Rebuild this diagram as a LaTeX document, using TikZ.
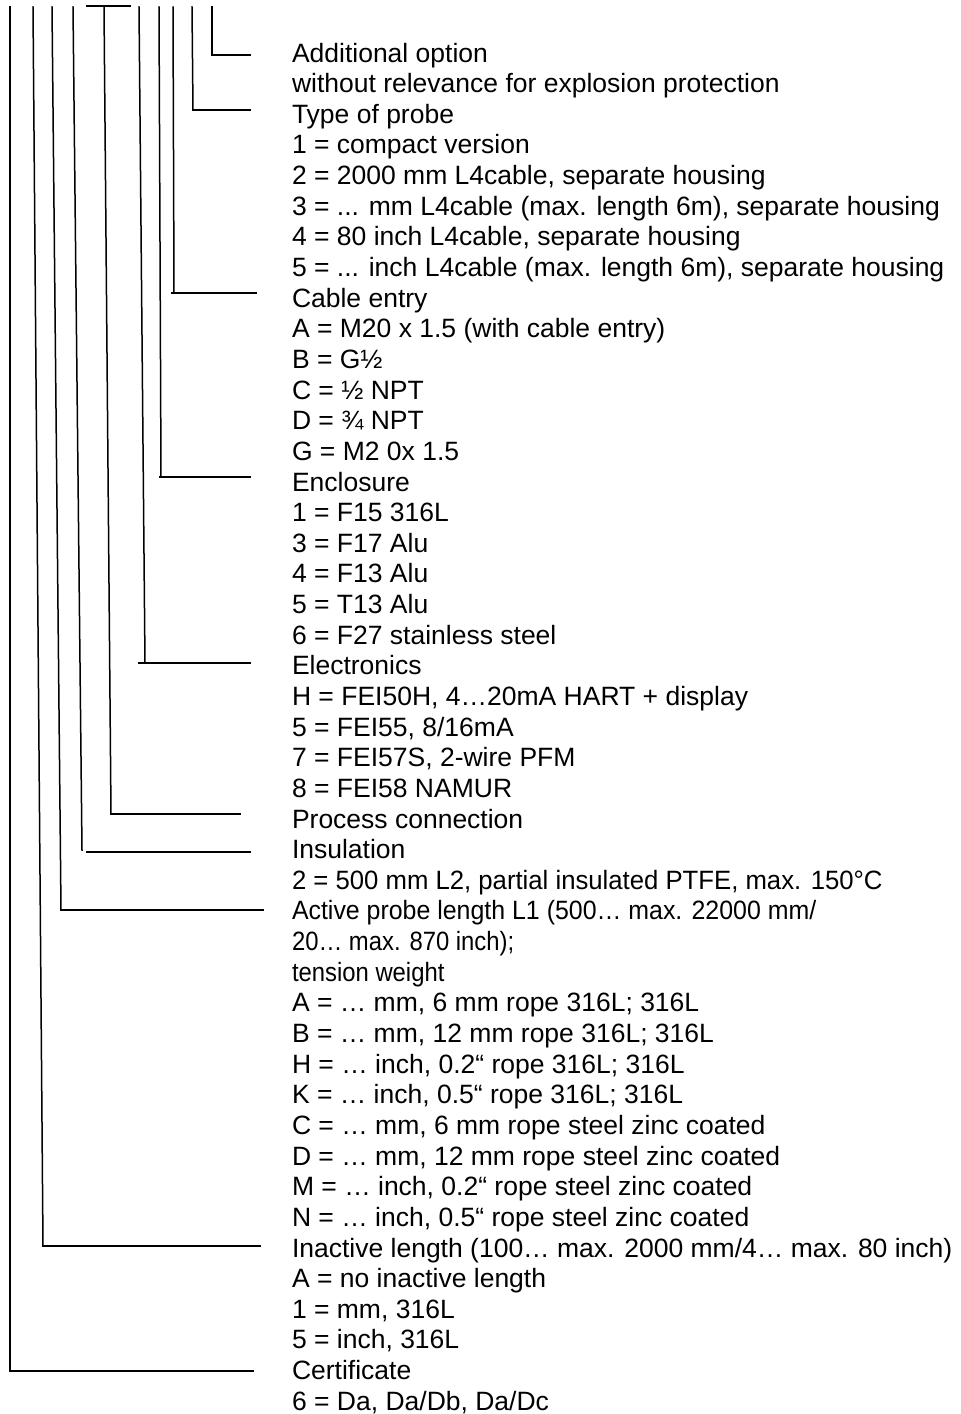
\documentclass[tikz,border=0pt]{standalone}
\usepackage{fontspec}
\setmainfont{Liberation Sans}
\begin{document}
\begin{tikzpicture}[
x=1pt, y=-1pt,
txt/.style={anchor=north west, inner sep=0pt, outer sep=0pt, text height=22.64pt,
  text depth=8pt, font=\fontsize{26.5}{30}\selectfont},
narrow/.style={txt, font=\fontsize{26.5}{30}\selectfont\addfontfeatures{FakeStretch=#1}},
stem/.style={line width=1.5pt, line cap=rect}
]
\useasboundingbox (0,0) rectangle (961,1414);
\node[txt] (add) at (292,39.4) {Additional option};
\node[txt] (l2) at (add.south west) {without relevance for explosion protection};
\node[txt] (probe) at (l2.south west) {Type of probe};
\node[txt] (l4) at (probe.south west) {1 = compact version};
\node[txt] (l5) at (l4.south west) {2 = 2000 mm L4cable, separate housing};
\node[txt] (l6) at (l5.south west) {3 = ... mm L4cable (max. length 6m), separate housing};
\node[txt] (l7) at (l6.south west) {4 = 80 inch L4cable, separate housing};
\node[txt] (l8) at (l7.south west) {5 = ... inch L4cable (max. length 6m), separate housing};
\node[txt] (cable) at (l8.south west) {Cable entry};
\node[txt] (l10) at (cable.south west) {A = M20 x 1.5 (with cable entry)};
\node[txt] (l11) at (l10.south west) {B = G½};
\node[txt] (l12) at (l11.south west) {C = ½ NPT};
\node[txt] (l13) at (l12.south west) {D = ¾ NPT};
\node[txt] (l14) at (l13.south west) {G = M2 0x 1.5};
\node[txt] (encl) at (l14.south west) {Enclosure};
\node[txt] (l16) at (encl.south west) {1 = F15 316L};
\node[txt] (l17) at (l16.south west) {3 = F17 Alu};
\node[txt] (l18) at (l17.south west) {4 = F13 Alu};
\node[txt] (l19) at (l18.south west) {5 = T13 Alu};
\node[txt] (l20) at (l19.south west) {6 = F27 stainless steel};
\node[txt] (elec) at (l20.south west) {Electronics};
\node[txt] (l22) at (elec.south west) {H = FEI50H, 4…20mA HART + display};
\node[txt] (l23) at (l22.south west) {5 = FEI55, 8/16mA};
\node[txt] (l24) at (l23.south west) {7 = FEI57S, 2-wire PFM};
\node[txt] (l25) at (l24.south west) {8 = FEI58 NAMUR};
\node[txt] (proc) at (l25.south west) {Process connection};
\node[txt] (insu) at (proc.south west) {Insulation};
\node[narrow=0.97] (l28) at (insu.south west) {2 = 500 mm L2, partial insulated PTFE, max. 150°C};
\node[narrow=0.94] (active) at (l28.south west) {Active probe length L1 (500… max. 22000 mm/};
\node[narrow=0.9] (l30) at (active.south west) {20… max. 870 inch);};
\node[narrow=0.9] (l31) at (l30.south west) {tension weight};
\node[txt] (l32) at (l31.south west) {A = … mm, 6 mm rope 316L; 316L};
\node[txt] (l33) at (l32.south west) {B = … mm, 12 mm rope 316L; 316L};
\node[txt] (l34) at (l33.south west) {H = … inch, 0.2“ rope 316L; 316L};
\node[txt] (l35) at (l34.south west) {K = … inch, 0.5“ rope 316L; 316L};
\node[txt] (l36) at (l35.south west) {C = … mm, 6 mm rope steel zinc coated};
\node[txt] (l37) at (l36.south west) {D = … mm, 12 mm rope steel zinc coated};
\node[txt] (l38) at (l37.south west) {M = … inch, 0.2“ rope steel zinc coated};
\node[txt] (l39) at (l38.south west) {N = … inch, 0.5“ rope steel zinc coated};
\node[txt] (inact) at (l39.south west) {Inactive length (100… max. 2000 mm/4… max. 80 inch)};
\node[txt] (l41) at (inact.south west) {A = no inactive length};
\node[txt] (l42) at (l41.south west) {1 = mm, 316L};
\node[txt] (l43) at (l42.south west) {5 = inch, 316L};
\node[txt] (cert) at (l43.south west) {Certificate};
\node[txt] (l45) at (cert.south west) {6 = Da, Da/Db, Da/Dc};
\foreach \nm/\tx/\bx/\vy/\sx/\hy/\ex in {
  add/212/212/55/212/55/250, probe/192/193/110/193/110/250,
  cable/173/174/293/172/293/256, encl/159/161/477/160/477/250,
  elec/139/145/663/139/663/250, proc/104/111/814/111/814/240,
  insu/73/82/850/87/852/250, active/52/61/910/61/910/263,
  inact/33/43/1246/43/1246/260, cert/10/10/1371/10/1371/253}{
  \coordinate (top-\nm) at (\tx,7);
  \draw[stem] (top-\nm) -- (\bx,\vy);
  \draw[stem] (\sx,\hy) -- (\ex,\hy);
}
\draw[stem] (87,6) -- (130,6);
\end{tikzpicture}
\end{document}
